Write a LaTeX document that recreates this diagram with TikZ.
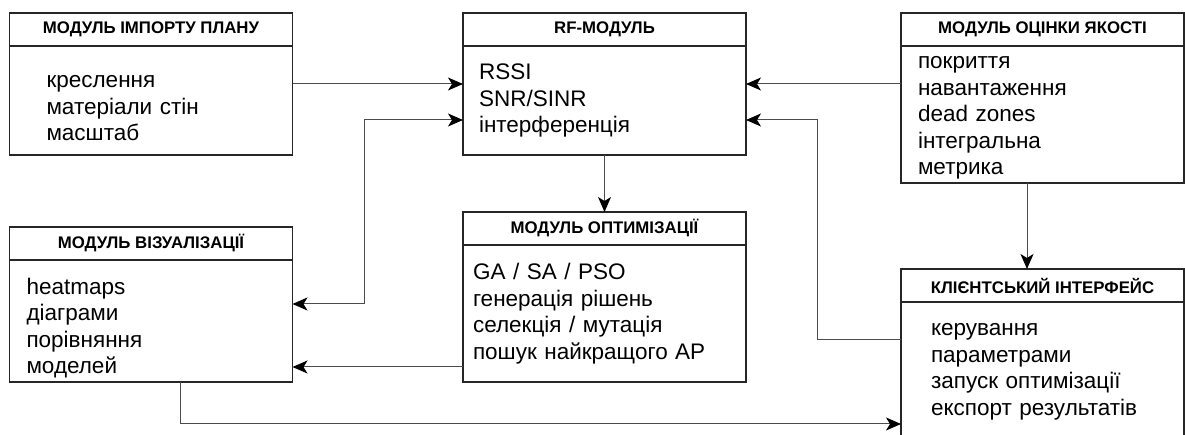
\documentclass[tikz,border=0pt]{standalone}
\usepackage{fontspec}
\setmainfont{Liberation Sans}
\usepackage{tikz}
\usetikzlibrary{arrows.meta,positioning}

\begin{document}
\begin{tikzpicture}[
      x=1bp, y=-1bp,
      >={Stealth[length=15bp,width=13bp,inset=4bp,color=black]},
      head/.style={draw=black!85, line width=1.2bp, outer sep=0pt,
        anchor=north west, minimum width=283bp, minimum height=33bp,
        inner sep=0pt, font=\fontsize{16.8bp}{19bp}\selectfont\bfseries},
      body/.style n args={3}{draw=black!85, line width=1.2bp, outer sep=0pt,
        inner ysep=0pt, inner xsep=#1, text width=#2, minimum height=#3,
        align=left, font=\fontsize{22.5bp}{26.5bp}\selectfont},
      push/.style={execute at begin node={\rule{0pt}{#1}}},
      conn/.style={->, line width=1bp, draw=black!70}
    ]
    \useasboundingbox (0,0) rectangle (1185,435);

    \node[head] (imphead) at (9.5,13) {МОДУЛЬ ІМПОРТУ ПЛАНУ};
    \node[body={37bp}{209bp}{109bp}, push=27.5bp, below=0pt of imphead] (impbody)
      {креслення\\матеріали стін\\масштаб};

    \node[head] (rfhead) at (463,13) {RF-МОДУЛЬ};
    \node[body={16bp}{251bp}{109bp}, below=0pt of rfhead] (rfbody)
      {RSSI\\SNR/SINR\\інтерференція};

    \node[head] (qualhead) at (901,13) {МОДУЛЬ ОЦІНКИ ЯКОСТІ};
    \node[body={17bp}{249bp}{137bp}, push=19.5bp, below=0pt of qualhead] (qualbody)
      {покриття\\навантаження\\dead zones\\інтегральна\\метрика};

    \node[head] (vizhead) at (9.5,227) {МОДУЛЬ ВІЗУАЛІЗАЦІЇ};
    \node[body={17bp}{249bp}{122bp}, push=30bp, below=0pt of vizhead] (vizbody)
      {heatmaps\\діаграми\\порівняння\\моделей};

    \node[head] (opthead) at (463,212) {МОДУЛЬ ОПТИМІЗАЦІЇ};
    \node[body={10bp}{263bp}{137bp}, below=0pt of opthead] (optbody)
      {GA / SA / PSO\\генерація рішень\\селекція / мутація\\пошук найкращого AP};

    \node[head] (clihead) at (901,269) {КЛІЄНТСЬКИЙ ІНТЕРФЕЙС};
    \node[body={30bp}{223bp}{135bp}, push=16.5bp, below=0pt of clihead] (clibody)
      {керування\\параметрами\\запуск оптимізації\\експорт результатів};

    \coordinate (lvla) at (0,84);
    \coordinate (lvlb) at (0,120);
    \coordinate (vbend) at (364,120);
    \coordinate (vizin) at (0,304);
    \coordinate (optout) at (0,367);
    \coordinate (cbend) at (817,340);
    \coordinate (qdrop) at (1027,0);
    \coordinate (vbot) at (180,424);

    \draw[conn] (impbody.east |- lvla) -- (rfbody.west |- lvla);
    \draw[conn] (qualbody.west |- lvla) -- (rfbody.east |- lvla);
    \draw[conn, <->] (rfbody.west |- vbend) -- (vbend)
      |- (vizbody.east |- vizin);
    \draw[conn] (clibody.west |- cbend) -- (cbend)
      |- (rfbody.east |- lvlb);
    \draw[conn] (rfbody.south) -- (opthead.north);
    \draw[conn] (qualbody.south -| qdrop) -- (clihead.north -| qdrop);
    \draw[conn] (optbody.west |- optout) -- (vizbody.east |- optout);
    \draw[conn] (vizbody.south -| vbot) |- (clibody.west |- vbot);
  \end{tikzpicture}
\end{document}
